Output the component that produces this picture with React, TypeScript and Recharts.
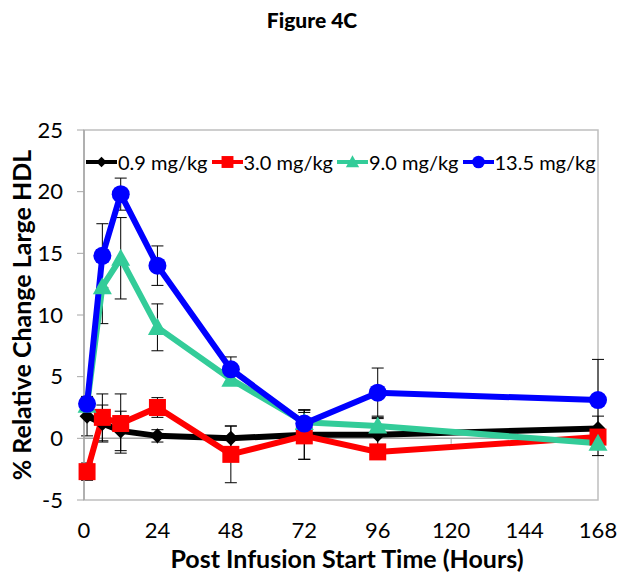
import {
  ComposedChart,
  Line,
  XAxis,
  YAxis,
  ErrorBar,
  Legend,
  ReferenceLine,
  ReferenceArea,
} from "recharts";

const FONT = "Lato, 'Open Sans', sans-serif";

// sampling times (hours after infusion start)
const hours = [1, 6, 12, 24, 48, 72, 96, 168];
const xTicks = [0, 24, 48, 72, 96, 120, 144, 168];
const yTicks = [-5, 0, 5, 10, 15, 20, 25];

const dose09 = [1.8, 1.2, 0.6, 0.2, 0.0, 0.3, 0.3, 0.8];
const dose09Err = [1.6, 1.5, 1.6, 0.5, 1.0, 2.0, 1.3, 1.0];
const dose30 = [-2.7, 1.7, 1.2, 2.5, -1.3, 0.2, -1.1, 0.1];
const dose30Err = [0.7, 1.9, 2.4, 0.8, 2.3, 1.9, 0.5, 0.5];
const dose90 = [2.7, 12.3, 14.6, 9.0, 4.8, 1.3, 1.0, -0.4];
const dose90Err = [0.5, 3.0, 3.3, 1.9, 0.5, 1.0, 0.8, 1.0];
const dose135 = [2.8, 14.8, 19.8, 14.0, 5.6, 1.2, 3.7, 3.1];
const dose135Err = [0.5, 2.6, 1.3, 1.6, 1.0, 1.1, 2.0, 3.3];

const series = [
  { key: "d09", name: "0.9 mg/kg", color: "#000000", shape: "diamond", values: dose09, err: dose09Err },
  { key: "d30", name: "3.0 mg/kg", color: "#FF0000", shape: "square", values: dose30, err: dose30Err },
  { key: "d90", name: "9.0 mg/kg", color: "#33CC99", shape: "triangle", values: dose90, err: dose90Err },
  { key: "d135", name: "13.5 mg/kg", color: "#0000FF", shape: "circle", values: dose135, err: dose135Err },
];

const rows = hours.map((h, i) => {
  const row: any = { h };
  series.forEach((s) => {
    row[s.key] = s.values[i];
    row[s.key + "Err"] = s.err[i];
  });
  return row;
});

function Marker({ cx, cy, shape, color, scale = 1 }: any) {
  if (cx == null || cy == null) return null;
  if (shape === "diamond") {
    const r = 7.5 * scale;
    return <polygon points={`${cx},${cy - r} ${cx + r},${cy} ${cx},${cy + r} ${cx - r},${cy}`} fill={color} />;
  }
  if (shape === "square") {
    const r = 8.5 * scale;
    return <rect x={cx - r} y={cy - r} width={r * 2} height={r * 2} fill={color} />;
  }
  if (shape === "triangle") {
    const r = 9.5 * scale;
    return <polygon points={`${cx},${cy - r} ${cx + r},${cy + r * 0.8} ${cx - r},${cy + r * 0.8}`} fill={color} />;
  }
  return <circle cx={cx} cy={cy} r={9 * scale} fill={color} />;
}

function LegendBox() {
  return (
    <div style={{ display: "flex", alignItems: "center", fontFamily: FONT, fontSize: 20, color: "#000" }}>
      {series.map((s) => (
        <div key={s.key} style={{ display: "flex", alignItems: "center", marginRight: 4 }}>
          <svg width={31} height={18}>
            <line x1={0} y1={9} x2={31} y2={9} stroke={s.color} strokeWidth={4} />
            <Marker cx={15.5} cy={9} shape={s.shape} color={s.color} scale={0.7} />
          </svg>
          <span style={{ marginLeft: 1 }}>{s.name}</span>
        </div>
      ))}
    </div>
  );
}

export default function App() {
  return (
    <div style={{ position: "absolute", left: 0, top: 0, width: 624, height: 581, background: "#fff" }}>
      <div
        style={{
          position: "absolute",
          top: 7,
          width: 624,
          textAlign: "center",
          fontFamily: FONT,
          fontWeight: 900,
          fontSize: 21,
        }}
      >
        Figure 4C
      </div>
      <ComposedChart
        width={624}
        height={581}
        data={rows}
        margin={{ top: 130, right: 26, bottom: 0, left: 0 }}
        style={{ fontFamily: FONT }}
      >
        <ReferenceArea x1={0} x2={168} y1={-5} y2={25} fill="none" stroke="#BFBFBF" strokeWidth={1.5} />
        <ReferenceLine y={0} stroke="#A6A6A6" strokeWidth={1.5} />
        {xTicks.slice(1).map((t) => (
          <ReferenceLine
            key={t}
            segment={[
              { x: t, y: 0 },
              { x: t, y: -0.45 },
            ]}
            stroke="#A6A6A6"
          />
        ))}
        <XAxis
          type="number"
          dataKey="h"
          domain={[0, 168]}
          ticks={xTicks}
          interval={0}
          height={81}
          axisLine={false}
          tickLine={false}
          tickSize={0}
          tickMargin={22}
          tick={{ fontSize: 22, fill: "#000", fontFamily: FONT }}
          label={{
            content: (p: any) => {
              const vb = p.viewBox || { x: 84, y: 500, width: 514 };
              const x = vb.x + vb.width / 2 + 6;
              return (
                <text
                  x={x}
                  y={568}
                  textAnchor="middle"
                  style={{ fontSize: 25, fontWeight: 700, fill: "#000", fontFamily: FONT }}
                >
                  Post Infusion Start Time (Hours)
                </text>
              );
            },
          }}
        />
        <YAxis
          type="number"
          domain={[-5, 25]}
          ticks={yTicks}
          interval={0}
          width={84}
          axisLine={{ stroke: "#A6A6A6", strokeWidth: 1.5 }}
          tickLine={{ stroke: "#A6A6A6" }}
          tickSize={7}
          tickMargin={14}
          tick={{ fontSize: 22, fill: "#000", fontFamily: FONT }}
          label={{
            content: (p: any) => {
              const vb = p.viewBox || { x: 0, y: 130, height: 370 };
              const x = vb.x + 21;
              const y = vb.y + vb.height / 2;
              return (
                <text
                  x={x}
                  y={y}
                  transform={`rotate(-90 ${x} ${y})`}
                  textAnchor="middle"
                  dominantBaseline="central"
                  style={{ fontSize: 25, fontWeight: 700, fill: "#000", fontFamily: FONT }}
                >
                  % Relative Change Large HDL
                </text>
              );
            },
          }}
        />
        <Legend
          layout="horizontal"
          verticalAlign="middle"
          align="center"
          content={() => <LegendBox />}
          wrapperStyle={{ top: 150, left: 86, width: "auto" }}
        />
        {series.map((s) => (
          <Line
            key={s.key}
            type="linear"
            dataKey={s.key}
            name={s.name}
            stroke={s.color}
            strokeWidth={6}
            isAnimationActive={false}
            activeDot={false}
            dot={(p: any) => <Marker key={p.index} cx={p.cx} cy={p.cy} shape={s.shape} color={s.color} />}
          >
            <ErrorBar dataKey={s.key + "Err"} direction="y" width={6} stroke="#000" strokeWidth={1} />
          </Line>
        ))}
      </ComposedChart>
    </div>
  );
}
